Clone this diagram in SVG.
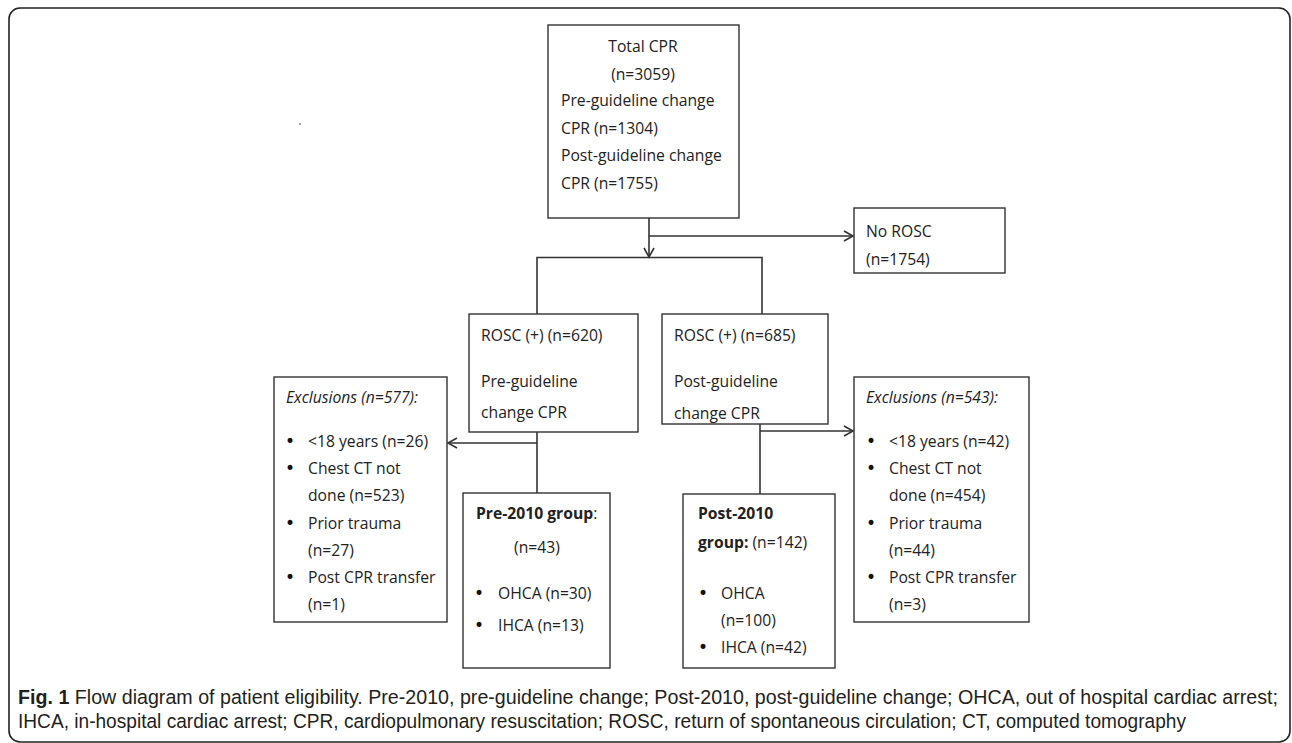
<svg xmlns="http://www.w3.org/2000/svg" width="1292" height="743" viewBox="0 0 1292 743">
<style>
.t{font-family:"Open Sans","Noto Sans",sans-serif;font-size:15.7px;fill:#222}
.d{font-family:"DejaVu Sans",sans-serif;font-size:17px;fill:#111}
.b{font-weight:bold}
.i{font-style:italic}
.box{fill:#fff;stroke:#333;stroke-width:1.4}
.ln{fill:none;stroke:#333;stroke-width:1.6}
.cap{font-family:"Liberation Sans Narrow","Liberation Sans",sans-serif;font-size:20.5px;fill:#231f20}
</style>
<defs>
<marker id="arr" markerWidth="12" markerHeight="12" refX="10" refY="6" orient="auto" markerUnits="userSpaceOnUse">
<path d="M1,1 L10,6 L1,11" fill="none" stroke="#333" stroke-width="1.6"/>
</marker>
<clipPath id="clipR"><rect x="662" y="314" width="166" height="109"/></clipPath>
</defs>
<rect x="9" y="8" width="1281" height="734" rx="11" fill="none" stroke="#222" stroke-width="1.6"/>
<rect x="299" y="123" width="2" height="2" fill="#aaa"/>

<g id="connectors">
<path class="ln" d="M649,218 V257" marker-end="url(#arr)"/>
<path class="ln" d="M649,236 H853" marker-end="url(#arr)"/>
<path class="ln" d="M537,314 V257.5 H762 V314"/>
<path class="ln" d="M537,432 V493"/>
<path class="ln" d="M537,443 H448" marker-end="url(#arr)"/>
<path class="ln" d="M760,424 V494"/>
<path class="ln" d="M760,431 H853" marker-end="url(#arr)"/>
</g>

<g id="total">
<rect class="box" x="548" y="25" width="191" height="193"/>
<text class="t" x="643" y="52" text-anchor="middle">Total CPR</text>
<text class="t" x="643" y="80" text-anchor="middle">(n=3059)</text>
<text class="t" x="561" y="106">Pre-guideline change</text>
<text class="t" x="561" y="134">CPR (n=1304)</text>
<text class="t" x="561" y="161">Post-guideline change</text>
<text class="t" x="561" y="189">CPR (n=1755)</text>
</g>

<g id="norosc">
<rect class="box" x="854" y="208" width="151" height="65"/>
<text class="t" x="866" y="237">No ROSC</text>
<text class="t" x="866" y="265">(n=1754)</text>
</g>

<g id="rosc-pre">
<rect class="box" x="469" y="314" width="169" height="118"/>
<text class="t" x="481" y="341">ROSC (+) (n=620)</text>
<text class="t" x="481" y="387">Pre-guideline</text>
<text class="t" x="481" y="418">change CPR</text>
</g>

<g id="rosc-post">
<rect class="box" x="662" y="314" width="166" height="110"/>
<g clip-path="url(#clipR)">
<text class="t" x="674" y="341">ROSC (+) (n=685)</text>
<text class="t" x="674" y="387">Post-guideline</text>
<text class="t" x="674" y="419">change CPR</text>
</g>
</g>

<g id="excl-pre">
<rect class="box" x="274" y="377" width="173" height="245"/>
<text class="t i" x="286" y="403">Exclusions (n=577):</text>
<text class="d" x="285" y="447">•</text><text class="t" x="308" y="447">&lt;18 years (n=26)</text>
<text class="d" x="285" y="474">•</text><text class="t" x="308" y="474">Chest CT not</text>
<text class="t" x="308" y="501">done (n=523)</text>
<text class="d" x="285" y="529">•</text><text class="t" x="308" y="529">Prior trauma</text>
<text class="t" x="308" y="556">(n=27)</text>
<text class="d" x="285" y="583">•</text><text class="t" x="308" y="583">Post CPR transfer</text>
<text class="t" x="308" y="610">(n=1)</text>
</g>

<g id="pre2010">
<rect class="box" x="463" y="493" width="147" height="175"/>
<text class="t" x="476" y="519"><tspan class="b">Pre-2010 group</tspan>:</text>
<text class="t" x="537" y="553" text-anchor="middle">(n=43)</text>
<text class="d" x="474" y="599">•</text><text class="t" x="498" y="599">OHCA (n=30)</text>
<text class="d" x="474" y="631">•</text><text class="t" x="498" y="631">IHCA (n=13)</text>
</g>

<g id="post2010">
<rect class="box" x="683" y="494" width="152" height="174"/>
<text class="t b" x="698" y="519">Post-2010</text>
<text class="t" x="698" y="548"><tspan class="b">group:</tspan> (n=142)</text>
<text class="d" x="698" y="599">•</text><text class="t" x="721" y="599">OHCA</text>
<text class="t" x="721" y="626">(n=100)</text>
<text class="d" x="698" y="653">•</text><text class="t" x="721" y="653">IHCA (n=42)</text>
</g>

<g id="excl-post">
<rect class="box" x="854" y="377" width="175" height="245"/>
<text class="t i" x="866" y="403">Exclusions (n=543):</text>
<text class="d" x="866" y="447">•</text><text class="t" x="889" y="447">&lt;18 years (n=42)</text>
<text class="d" x="866" y="474">•</text><text class="t" x="889" y="474">Chest CT not</text>
<text class="t" x="889" y="501">done (n=454)</text>
<text class="d" x="866" y="529">•</text><text class="t" x="889" y="529">Prior trauma</text>
<text class="t" x="889" y="556">(n=44)</text>
<text class="d" x="866" y="583">•</text><text class="t" x="889" y="583">Post CPR transfer</text>
<text class="t" x="889" y="610">(n=3)</text>
</g>

<g id="caption">
<text class="cap" x="18" y="704" textLength="1260" lengthAdjust="spacingAndGlyphs"><tspan font-weight="bold">Fig. 1</tspan> Flow diagram of patient eligibility. Pre-2010, pre-guideline change; Post-2010, post-guideline change; OHCA, out of hospital cardiac arrest;</text>
<text class="cap" x="18" y="728" textLength="1168" lengthAdjust="spacingAndGlyphs">IHCA, in-hospital cardiac arrest; CPR, cardiopulmonary resuscitation; ROSC, return of spontaneous circulation; CT, computed tomography</text>
</g>
</svg>
